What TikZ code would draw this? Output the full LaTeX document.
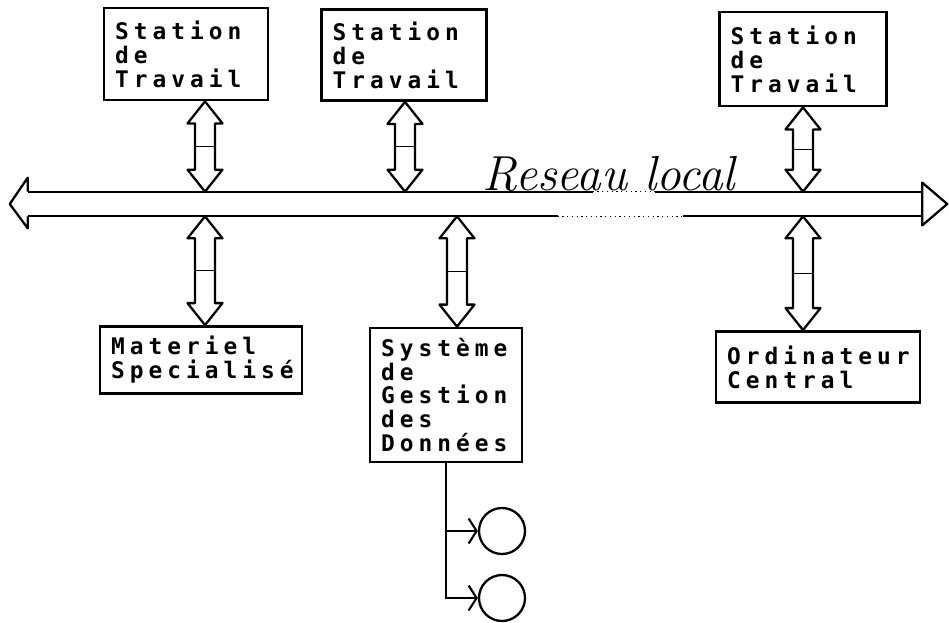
\documentclass[tikz,border=0pt]{standalone}
\usepackage{fontspec}
\newfontfamily\hand[LetterSpace=22]{DejaVu Sans Mono}
\usetikzlibrary{positioning,arrows.meta,calc}

\begin{document}
\begin{tikzpicture}[
  x=0.02cm, y=-0.02cm,
  font=\hand\bfseries\fontsize{13}{13.6}\selectfont,
  box/.style={draw, line width=1.6pt, align=left, inner xsep=0.22cm, inner ysep=0pt},
  wire/.style={line width=1.3pt, line join=round},
  gap/.style={line width=0.7pt, dotted},
  dbl/.style={wire, to path={let \p1=(\tikztostart), \p2=(\tikztotarget) in
      (\x1,\y1) -- (\x1+0.35cm,\y1-0.44cm) -- (\x1+0.2cm,\y1-0.44cm)
      -- (\x1+0.2cm,\y2+0.44cm) -- (\x1+0.35cm,\y2+0.44cm) -- (\x1,\y2)
      -- (\x1-0.35cm,\y2+0.44cm) -- (\x1-0.2cm,\y2+0.44cm)
      -- (\x1-0.2cm,\y1-0.44cm) -- (\x1-0.35cm,\y1-0.44cm) -- cycle}},
  midrule/.style={line width=0.5pt},
  feed/.style={line width=1.2pt, -{Straight Barb[length=1.6mm, width=5mm]}},
  disk/.style={draw, circle, line width=1.3pt, minimum size=0.92cm, inner sep=0pt}
]
  \useasboundingbox (0,0) rectangle (949,622);

  % stations de travail
  \node[box, text width=2.84cm, minimum height=1.84cm] (ws1) at (186,54) {Station\\de\\Travail};
  \node[box, text width=2.86cm, minimum height=1.82cm] (ws2) at (404,55) {Station\\de\\Travail};
  \node[box, text width=2.90cm, minimum height=1.88cm] (ws3) at (803,59) {Station\\de\\Travail};

  % reseau
  \node[inner sep=0pt, minimum width=17.88cm, minimum height=0.48cm] (bus) at (475,204) {};
  \node[anchor=base west, inner sep=0pt, font=\normalfont\itshape\fontsize{28}{28}\selectfont] (lan) at (482,190) {Reseau local};

  % en bas
  \node[box, text width=3.60cm, minimum height=1.34cm] (mat) at (201,360) {Materiel\\Specialisé};
  \node[box, text width=2.60cm, minimum height=2.68cm] (sgbd) at (446,395) {Système\\de\\Gestion\\des\\Données};
  \node[box, text width=3.64cm, minimum height=1.42cm] (ord) at (818,367) {Ordinateur\\Central};
  \node[disk] (d1) at (502,531) {};
  \node[disk] (d2) at (502,598) {};

  \coordinate (t1) at (205,0);
  \coordinate (t2) at (405,0);
  \coordinate (t3) at (803,0);
  \coordinate (t4) at (457,0);

  % bus
  \draw[wire] (bus.north west) -- ++(0,-14) -- ($(bus.west)+(-18,0)$) -- ($(bus.south west)+(0,12)$) -- (bus.south west);
  \draw[wire] (bus.north east) -- ++(0,-9) -- ($(bus.east)+(25,0)$) -- ($(bus.south east)+(0,9)$) -- cycle;
  \draw[wire] (bus.north west) -- ($(bus.north west)+(565,0)$);
  \draw[gap] ($(bus.north west)+(565,0)$) -- ($(bus.north west)+(627,0)$);
  \draw[wire] ($(bus.north west)+(627,0)$) -- (bus.north east);
  \draw[wire] (bus.south west) -- ($(bus.south west)+(530,0)$);
  \draw[gap] ($(bus.south west)+(530,0)$) -- ($(bus.south west)+(655,0)$);
  \draw[wire] ($(bus.south west)+(655,0)$) -- (bus.south east);

  % liaisons
  \draw[dbl] (t1 |- ws1.south) to (t1 |- bus.north);
  \draw[dbl] (t2 |- ws2.south) to (t2 |- bus.north);
  \draw[dbl] (t3 |- ws3.south) to (t3 |- bus.north);
  \draw[dbl] (t1 |- bus.south) to (t1 |- mat.north);
  \draw[dbl] (t4 |- bus.south) to (t4 |- sgbd.north);
  \draw[dbl] (t3 |- bus.south) to (t3 |- ord.north);
  \foreach \tap/\a/\b in {t1/ws1.south/bus.north, t2/ws2.south/bus.north, t3/ws3.south/bus.north,
                          t1/bus.south/mat.north, t4/bus.south/sgbd.north, t3/bus.south/ord.north}
    \draw[midrule] ($(\tap |- \a)!0.5!(\tap |- \b)$) +(-10,0) -- +(10,0);

  \draw[feed] (sgbd.south) |- (d2);
  \draw[feed] (sgbd.south |- d1) -- (d1);
\end{tikzpicture}
\end{document}
